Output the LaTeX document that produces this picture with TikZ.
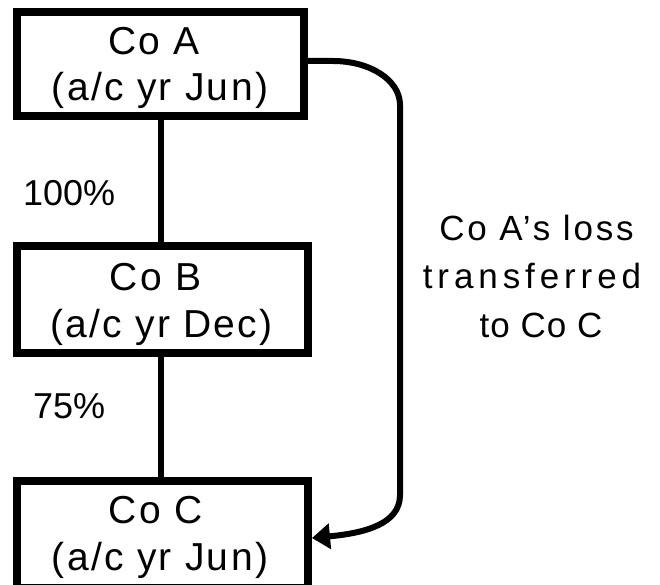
\documentclass[tikz,border=0pt]{standalone}
\usepackage{fontspec}
\setmainfont{Liberation Sans}
\newfontfamily\boxfont[LetterSpace=6]{Liberation Sans}
\newfontfamily\lblfont{Liberation Sans}
\newfontfamily\sideA[LetterSpace=8]{Liberation Sans}
\newfontfamily\sideB[LetterSpace=14]{Liberation Sans}
\newfontfamily\sideC[LetterSpace=3]{Liberation Sans}
\usetikzlibrary{arrows.meta}
\begin{document}
\begin{tikzpicture}[x=1pt,y=-1pt,
  company/.style={draw=black, line width=8pt, inner sep=0pt, rectangle},
  boxtext/.style={anchor=base, inner sep=0pt, font=\boxfont\fontsize{39}{39}\selectfont},
  pct/.style={anchor=base west, inner sep=0pt, font=\lblfont\fontsize{36}{36}\selectfont},
  side/.style={anchor=base, inner sep=0pt},
  link/.style={line width=6pt},
  transfer/.style={line width=6pt, -{Triangle[length=18pt,width=25pt]}}]
\useasboundingbox (0,0) rectangle (660,585);

% company boxes
\node[company, minimum width=287pt, minimum height=104pt] (A) at (160.5,64) {};
\node[company, minimum width=291pt, minimum height=107pt] (B) at (162.5,299.5) {};
\node[company, minimum width=291pt, minimum height=107pt] (C) at (162.5,534.5) {};

% box texts
\node[boxtext] (A1) at (154,55) {Co A};
\node[boxtext] (A2) at (160,101) {(a/c yr Jun)};
\node[boxtext] (B1) at (155.5,290) {Co B};
\node[boxtext] (B2) at (161.5,337) {(a/c yr Dec)};
\node[boxtext] (C1) at (155.5,523) {Co C};
\node[boxtext] (C2) at (160,570) {(a/c yr Jun)};

% ownership links
\draw[link] (A.south) -- (A.south |- B.north);
\draw[link] (A.south |- B.south) -- (A.south |- C.north);

% percentage labels
\node[pct] (p100) at (23,205) {100\%};
\node[pct] (p75) at (33,418) {75\%};

% loss transfer connector
\coordinate (t1) at (333,61);
\coordinate (t2) at (400,105);
\coordinate (t3) at (400,495);
\draw[transfer] ([yshift=3pt]A.east) -- (t1)
  .. controls (370,61) and (400,80) .. (t2) -- (t3)
  .. controls (400,524) and (365,533) .. ([yshift=-3.5pt]C.east);

% side label
\node[side, font=\sideA\fontsize{35}{35}\selectfont] (s1) at (536.5,240) {Co A’s loss};
\node[side, font=\sideB\fontsize{35}{35}\selectfont] (s2) at (532,288) {transferred};
\node[side, font=\sideC\fontsize{35}{35}\selectfont] (s3) at (541,337) {to Co C};
\end{tikzpicture}
\end{document}
